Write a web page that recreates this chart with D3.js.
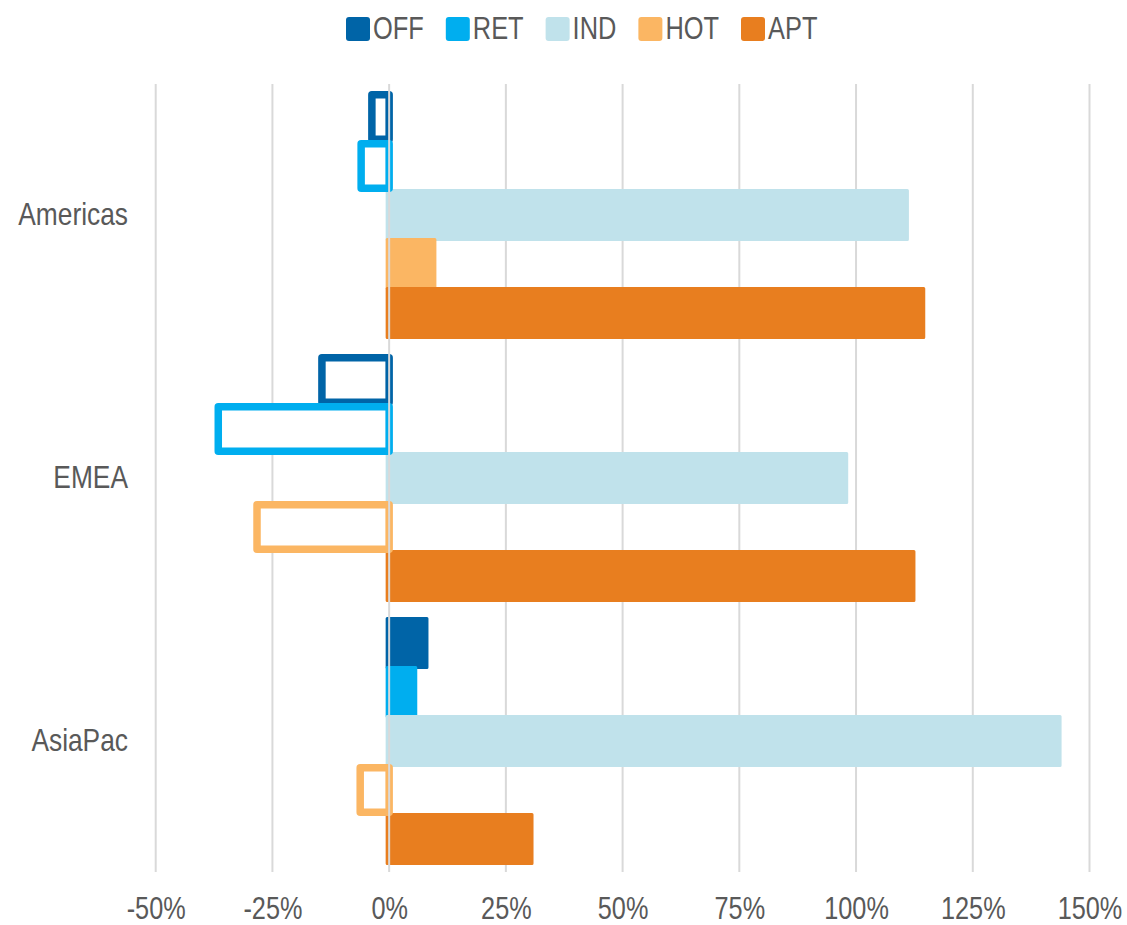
<!DOCTYPE html>
<html>
<head>
<meta charset="utf-8">
<script src="https://cdn.jsdelivr.net/npm/d3@7"></script>
<style>
  html, body { margin: 0; padding: 0; background: #fff; }
  svg text { font-family: "Liberation Sans", Arial, sans-serif; fill: #595959; }
</style>
</head>
<body>
<svg id="chart" width="1127" height="925"></svg>
<script>
// Regions shown on the vertical axis
const regions = ["Americas", "EMEA", "AsiaPac"];
// Property sectors (series)
const sectors = ["OFF", "RET", "IND", "HOT", "APT"];
const sectorColors = ["#0064a7", "#00aeef", "#c0e2eb", "#fbb663", "#e87e1f"];
// Change by sector, per region (fractions)
const offValues = [-0.037, -0.144, 0.081];
const retValues = [-0.060, -0.366, 0.057];
const indValues = [1.110, 0.980, 1.437];
const hotValues = [0.098, -0.283, -0.062];
const aptValues = [1.145, 1.124, 0.306];
// Axis ticks
const tickValues = [-0.5, -0.25, 0, 0.25, 0.5, 0.75, 1.0, 1.25, 1.5];

// Condensed look for the labels
const fontSize = 31;
const squeeze = 0.82;
const regionSqueeze = 0.85;
const tickFontSize = 32;
const tickSqueeze = 0.79;

const seriesValues = [offValues, retValues, indValues, hotValues, aptValues];
const rows = [];
regions.forEach((r, i) => {
  sectors.forEach((s, j) => rows.push({ region: r, sector: s, value: seriesValues[j][i], color: sectorColors[j] }));
});

const svg = d3.select("#chart");

const x = d3.scaleLinear().domain([-0.5, 1.5]).range([155.7, 1089.5]);
const y = d3.scaleBand().domain(regions).range([83, 873]).paddingInner(0.068).paddingOuter(0.036);
const ySub = d3.scaleBand().domain(sectors).range([0, y.bandwidth()]);

// Vertical gridlines
svg.append("g").selectAll("line").data(tickValues.filter(t => t !== 0)).join("line")
  .attr("x1", d => x(d)).attr("x2", d => x(d))
  .attr("y1", 84).attr("y2", 872)
  .attr("stroke", "#d9d9d9").attr("stroke-width", 2);

// Bars: positive values filled, negative values drawn as outlines
const bars = svg.append("g");
bars.selectAll("rect.pos").data(rows.filter(d => d.value >= 0)).join("rect")
  .attr("class", "pos")
  .attr("x", x(0) - 2)
  .attr("y", d => y(d.region) + ySub(d.sector))
  .attr("width", d => x(d.value) - x(0) + 2)
  .attr("height", ySub.bandwidth())
  .attr("fill", d => d.color)
  .attr("stroke", d => d.color)
  .attr("stroke-width", 3)
  .attr("stroke-linejoin", "round");

bars.selectAll("rect.neg").data(rows.filter(d => d.value < 0)).join("rect")
  .attr("class", "neg")
  .attr("x", d => x(d.value))
  .attr("y", d => y(d.region) + ySub(d.sector) + 2.25)
  .attr("width", d => x(0) - x(d.value))
  .attr("height", ySub.bandwidth() - 4.5)
  .attr("fill", "#fff")
  .attr("stroke", d => d.color)
  .attr("stroke-width", 7.5)
  .attr("stroke-linejoin", "round");

// Zero line sits above the bars
svg.append("line")
  .attr("x1", x(0)).attr("x2", x(0))
  .attr("y1", 84).attr("y2", 872)
  .attr("stroke", "#d9d9d9").attr("stroke-width", 2);

// Bottom axis labels
const xAxis = d3.axisBottom(x).tickValues(tickValues).tickSize(0).tickPadding(0)
  .tickFormat(d => d3.format(".0%")(d).replace("−", "-"));
const gx = svg.append("g").attr("transform", "translate(0,919)").call(xAxis);
gx.select(".domain").remove();
gx.selectAll("text")
  .attr("font-size", tickFontSize).attr("font-family", null)
  .attr("y", 0).attr("dy", 0)
  .attr("transform", `scale(${tickSqueeze},1)`);

// Region labels
svg.append("g").selectAll("text").data(regions).join("text")
  .attr("transform", d => `translate(128,${y(d) + y.bandwidth() / 2 + 10}) scale(${regionSqueeze},1)`)
  .attr("text-anchor", "end")
  .attr("font-size", fontSize)
  .text(d => d);

// Legend
const legend = svg.append("g").attr("transform", "translate(346,0)");
let lx = 0;
sectors.forEach((s, j) => {
  const item = legend.append("g").attr("transform", `translate(${lx},0)`);
  item.append("rect").attr("x", 0).attr("y", 17).attr("width", 24).attr("height", 24)
    .attr("rx", 3).attr("fill", sectorColors[j]);
  const t = item.append("text")
    .attr("transform", `translate(27,39) scale(${squeeze},1)`)
    .attr("font-size", fontSize).text(s);
  lx += 27 + t.node().getComputedTextLength() * squeeze + 22;
});
</script>
</body>
</html>
